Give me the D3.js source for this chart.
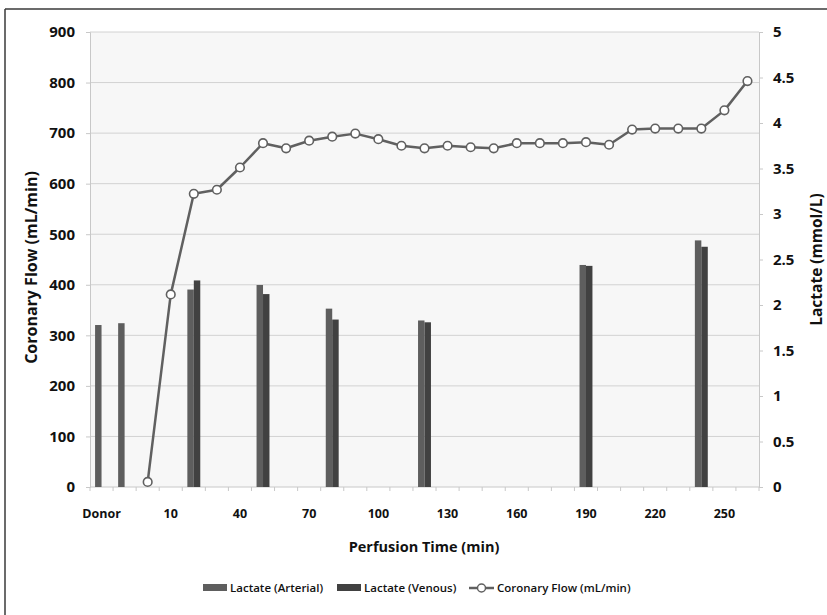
<!DOCTYPE html>
<html>
<head>
<meta charset="utf-8">
<script src="https://cdn.jsdelivr.net/npm/d3@7"></script>
<style>
  html, body { margin: 0; padding: 0; background: #fff; }
  svg { display: block; font-family: "Open Sans", sans-serif; }
</style>
</head>
<body>
<svg id="chart" width="827" height="615"></svg>
<script>
// Categories (perfusion time); every third label shown on the axis
const categories = ["Donor", "Pre", "0", "10", "20", "30", "40", "50", "60", "70", "80", "90", "100",
  "110", "120", "130", "140", "150", "160", "170", "180", "190", "200", "210", "220", "230", "240", "250", "260"];
const shownLabels = ["Donor", "10", "40", "70", "100", "130", "160", "190", "220", "250"];

// Lactate (mmol/L), right axis
const lactateArterial = [1.78, 1.80, null, null, 2.17, null, null, 2.22, null, null, 1.96, null, null, null, 1.83,
  null, null, null, null, null, null, 2.44, null, null, null, null, 2.71, null, null];
const lactateVenous = [null, null, null, null, 2.27, null, null, 2.12, null, null, 1.84, null, null, null, 1.81,
  null, null, null, null, null, null, 2.43, null, null, null, null, 2.64, null, null];

// Coronary flow (mL/min), left axis
const coronaryFlow = [null, null, 10, 381, 580, 588, 632, 680, 670, 685, 693, 699, 688, 675, 670,
  675, 672, 670, 680, 680, 680, 682, 677, 707, 709, 709, 709, 745, 803];

const leftTicks = [0, 100, 200, 300, 400, 500, 600, 700, 800, 900];
const rightTicks = [0, 0.5, 1, 1.5, 2, 2.5, 3, 3.5, 4, 4.5, 5];

const seriesNames = ["Lactate (Arterial)", "Lactate (Venous)", "Coronary Flow (mL/min)"];
const colArterial = "#5e5e5e", colVenous = "#414141", colLine = "#606060";

const svg = d3.select("#chart");
const L = 90, R = 759, T = 32, B = 487;

const x = d3.scaleBand().domain(categories).range([L, R]).padding(0);
const yL = d3.scaleLinear().domain([0, 900]).range([B, T]);
const yR = d3.scaleLinear().domain([0, 5]).range([B, T]);

// frame (left + top edges)
svg.append("line").attr("x1", 5).attr("x2", 5).attr("y1", 9).attr("y2", 615)
  .attr("stroke", "#3a3a3a").attr("stroke-width", 1.5);
svg.append("line").attr("x1", 5).attr("x2", 827).attr("y1", 9).attr("y2", 9)
  .attr("stroke", "#3a3a3a").attr("stroke-width", 1.5);

// plot background
svg.append("rect").attr("x", L).attr("y", T).attr("width", R - L).attr("height", B - T).attr("fill", "#f7f7f7");

// gridlines
svg.append("g").selectAll("line").data(leftTicks.slice(1)).join("line")
  .attr("x1", L).attr("x2", R).attr("y1", d => yL(d)).attr("y2", d => yL(d))
  .attr("stroke", "#d2d2d2").attr("stroke-width", 1);

// left axis
const gL = svg.append("g").attr("transform", `translate(${L},0)`)
  .call(d3.axisLeft(yL).tickValues(leftTicks).tickSize(4).tickPadding(11));
gL.select(".domain").attr("stroke", "#c8c8c8");
gL.selectAll(".tick line").attr("stroke", "#c8c8c8");
gL.selectAll("text").attr("font-size", 15).attr("font-weight", 700).attr("fill", "#111")
  .attr("font-family", "'Open Sans', sans-serif");

// right axis
const gR = svg.append("g").attr("transform", `translate(${R},0)`)
  .call(d3.axisRight(yR).tickValues(rightTicks).tickSize(4).tickPadding(10).tickFormat(d3.format("")));
gR.select(".domain").attr("stroke", "#c8c8c8");
gR.selectAll(".tick line").attr("stroke", "#c8c8c8");
gR.selectAll("text").attr("font-size", 15).attr("font-weight", 700).attr("fill", "#111")
  .attr("font-family", "'Open Sans', sans-serif");

// bottom axis: ticks at category boundaries
const gB = svg.append("g").attr("transform", `translate(0,${B})`);
gB.append("line").attr("x1", L).attr("x2", R).attr("stroke", "#c8c8c8");
gB.selectAll("line.tk").data(categories.concat(["__end"])).join("line").attr("class", "tk")
  .attr("x1", (d, i) => i < categories.length ? x(d) : R)
  .attr("x2", (d, i) => i < categories.length ? x(d) : R)
  .attr("y1", 0).attr("y2", 4).attr("stroke", "#c8c8c8");
gB.selectAll("text").data(categories.filter(c => shownLabels.includes(c))).join("text")
  .attr("x", d => x(d) + x.bandwidth() / 2).attr("y", 31)
  .attr("text-anchor", "middle").attr("font-size", 12.5).attr("font-weight", 700).attr("fill", "#111")
  .text(d => d);

// bars
const bw = x.bandwidth() * 0.28;
const barData = [];
categories.forEach((c, i) => {
  if (lactateArterial[i] != null) barData.push({ c, v: lactateArterial[i], off: -bw, col: colArterial });
  if (lactateVenous[i] != null) barData.push({ c, v: lactateVenous[i], off: 0, col: colVenous });
});
svg.append("g").selectAll("rect").data(barData).join("rect")
  .attr("x", d => x(d.c) + x.bandwidth() / 2 + d.off)
  .attr("y", d => yR(d.v)).attr("width", bw).attr("height", d => B - yR(d.v))
  .attr("fill", d => d.col);

// line
const pts = categories.map((c, i) => ({ c, v: coronaryFlow[i] })).filter(d => d.v != null);
svg.append("path").datum(pts)
  .attr("d", d3.line().x(d => x(d.c) + x.bandwidth() / 2).y(d => yL(d.v)))
  .attr("fill", "none").attr("stroke", colLine).attr("stroke-width", 2.5).attr("stroke-linejoin", "round");
svg.append("g").selectAll("circle").data(pts).join("circle")
  .attr("cx", d => x(d.c) + x.bandwidth() / 2).attr("cy", d => yL(d.v)).attr("r", 4.3)
  .attr("fill", "#fff").attr("stroke", colLine).attr("stroke-width", 1.6);

// axis titles
svg.append("text").attr("transform", `translate(37,${(T + B) / 2 + 8}) rotate(-90)`)
  .attr("text-anchor", "middle").attr("font-size", 16).attr("font-weight", 700).attr("fill", "#111")
  .text("Coronary Flow (mL/min)");
svg.append("text").attr("transform", `translate(822,${(T + B) / 2}) rotate(-90)`)
  .attr("text-anchor", "middle").attr("font-size", 15.5).attr("font-weight", 700).attr("fill", "#111")
  .text("Lactate (mmol/L)");
svg.append("text").attr("x", 424).attr("y", 552)
  .attr("text-anchor", "middle").attr("font-size", 14.5).attr("font-weight", 700).attr("fill", "#111")
  .text("Perfusion Time (min)");

// legend
const lg = svg.append("g").attr("font-size", 11.5).attr("font-weight", 600).attr("fill", "#111");
lg.append("rect").attr("x", 203).attr("y", 584).attr("width", 24).attr("height", 7).attr("fill", colArterial);
lg.append("text").attr("x", 230).attr("y", 592).text(seriesNames[0]);
lg.append("rect").attr("x", 337).attr("y", 584).attr("width", 24).attr("height", 7).attr("fill", colVenous);
lg.append("text").attr("x", 364).attr("y", 592).text(seriesNames[1]);
lg.append("line").attr("x1", 469).attr("x2", 494).attr("y1", 588).attr("y2", 588)
  .attr("stroke", colLine).attr("stroke-width", 2.5);
lg.append("circle").attr("cx", 481.5).attr("cy", 588).attr("r", 4).attr("fill", "#fff")
  .attr("stroke", colLine).attr("stroke-width", 1.5);
lg.append("text").attr("x", 497).attr("y", 592).text(seriesNames[2]);
</script>
</body>
</html>
